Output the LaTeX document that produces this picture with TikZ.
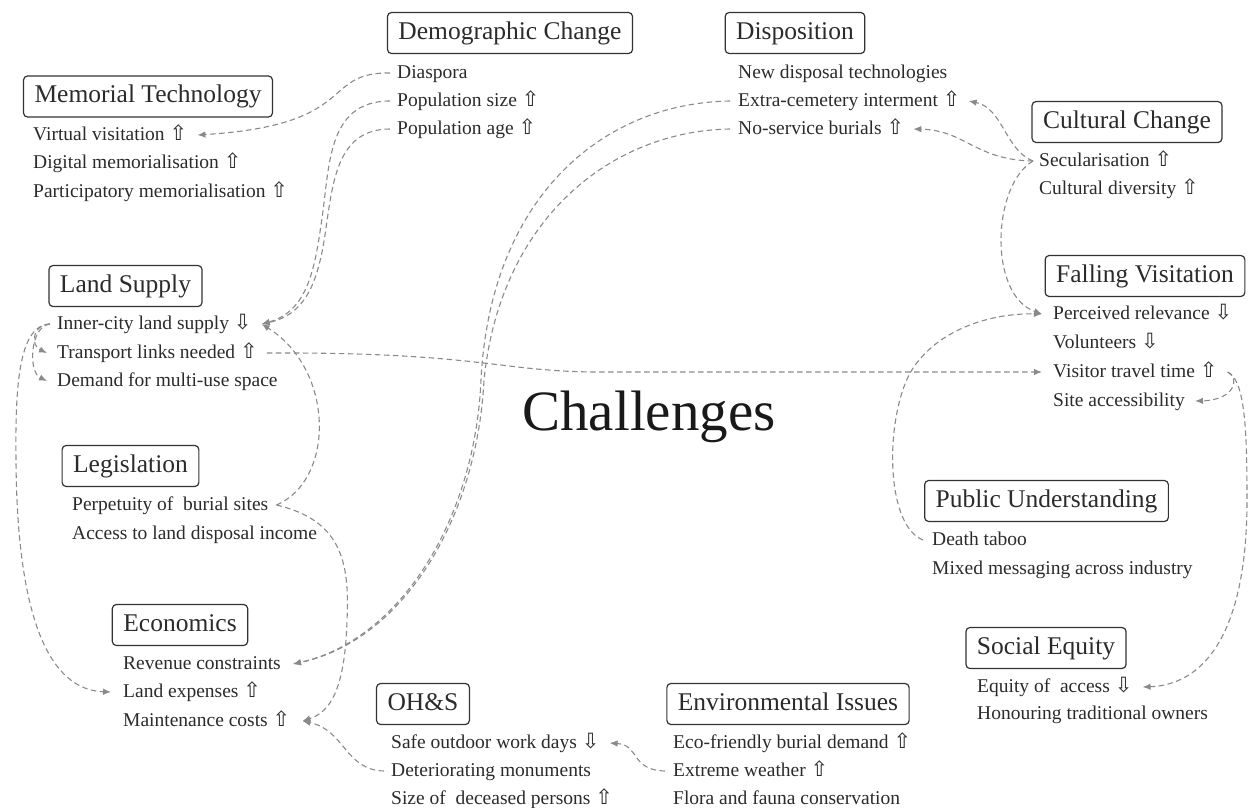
\documentclass[tikz,border=0pt]{standalone}
\usepackage{fontspec}
\setmainfont{Liberation Serif}
\newfontfamily\arwfont{DejaVu Sans}
\usetikzlibrary{arrows.meta}
\newcommand\UpA{{\arwfont\fontsize{21}{21}\selectfont\symbol{"21E7}}}
\newcommand\DnA{{\arwfont\fontsize{21}{21}\selectfont\symbol{"21E9}}}
\definecolor{txt}{HTML}{2B2B2B}
\definecolor{boxc}{HTML}{333333}
\definecolor{lnc}{HTML}{8A8A8A}
\tikzset{
 head/.style={draw=boxc, line width=1.2pt, rounded corners=4pt, text=txt,
   font=\fontsize{25.5}{28}\selectfont, minimum height=41pt, inner xsep=11pt,
   inner ysep=0pt, text height=17pt, text depth=5pt},
 item/.style={anchor=west, inner sep=0pt, text=txt,
   font=\fontsize{19.5}{22}\selectfont, text height=14pt, text depth=4pt},
 conn/.style={draw=lnc, line width=1.1pt, dash pattern=on 5.5pt off 3.5pt,
   -{Latex[length=8pt,width=6.5pt]}},
}
\begin{document}
\begin{tikzpicture}[x=1pt,y=-1pt]
\useasboundingbox (0,0) rectangle (1250,807);
% headings and items
\node[head] (mt) at (148,96.5) {Memorial Technology};
\node[item] (mt1) at (33,135) {Virtual visitation \UpA};
\node[item] (mt2) at (33,163.5) {Digital memorialisation \UpA};
\node[item] (mt3) at (33,192) {Participatory memorialisation \UpA};

\node[head] (dc) at (510,33) {Demographic Change};
\node[item] (dc1) at (397,73) {Diaspora};
\node[item] (dc2) at (397,101) {Population size \UpA};
\node[item] (dc3) at (397,129) {Population age \UpA};

\node[head] (dp) at (795,33) {Disposition};
\node[item] (dp1) at (738,73) {New disposal technologies};
\node[item] (dp2) at (738,101) {Extra-cemetery interment \UpA};
\node[item] (dp3) at (738,129) {No-service burials \UpA};

\node[head] (cc) at (1127,122) {Cultural Change};
\node[item] (cc1) at (1039,161) {Secularisation \UpA};
\node[item] (cc2) at (1039,189) {Cultural diversity \UpA};

\node[head] (fv) at (1145,276) {Falling Visitation};
\node[item] (fv1) at (1053,314) {Perceived relevance \DnA};
\node[item] (fv2) at (1053,343) {Volunteers \DnA};
\node[item] (fv3) at (1053,372) {Visitor travel time \UpA};
\node[item] (fv4) at (1053,401) {Site accessibility};

\node[head] (pu) at (1046.5,501) {Public Understanding};
\node[item] (pu1) at (932,540) {Death taboo};
\node[item] (pu2) at (932,569) {Mixed messaging across industry};

\node[head] (se) at (1046,648) {Social Equity};
\node[item] (se1) at (977,687) {Equity of\ \ access \DnA};
\node[item] (se2) at (977,714) {Honouring traditional owners};

\node[head] (ei) at (788,704) {Environmental Issues};
\node[item] (ei1) at (673,743) {Eco-friendly burial demand \UpA};
\node[item] (ei2) at (673,771) {Extreme weather \UpA};
\node[item] (ei3) at (673,799) {Flora and fauna conservation};

\node[head] (oh) at (423,704) {OH\&S};
\node[item] (oh1) at (391,743) {Safe outdoor work days \DnA};
\node[item] (oh2) at (391,771) {Deteriorating monuments};
\node[item] (oh3) at (391,799) {Size of\ \ deceased persons \UpA};

\node[head] (ec) at (180,625) {Economics};
\node[item] (ec1) at (123,664) {Revenue constraints};
\node[item] (ec2) at (123,692) {Land expenses \UpA};
\node[item] (ec3) at (123,721) {Maintenance costs \UpA};

\node[head] (lg) at (130.5,466) {Legislation};
\node[item] (lg1) at (72,505) {Perpetuity of\ \ burial sites};
\node[item] (lg2) at (72,534) {Access to land disposal income};

\node[head] (ls) at (125.5,286) {Land Supply};
\node[item] (ls1) at (57,324) {Inner-city land supply \DnA};
\node[item] (ls2) at (57,353) {Transport links needed \UpA};
\node[item] (ls3) at (57,381) {Demand for multi-use space};

\node[font=\fontsize{57}{60}\selectfont, text=black!90, anchor=base, inner sep=0pt] (ch) at (649,430) {Challenges};

% connectors
\draw[conn] ([xshift=-7pt]dc1.west) .. controls (320,72) and (360,125) .. ([xshift=10pt]mt1.east);
\draw[conn] ([xshift=-7pt]dc2.west) .. controls (325,101) and (330,170) .. (321,225)
  .. controls (314,275) and (305,312) .. ([xshift=10pt]ls1.east);
\draw[conn] ([xshift=-7pt]dc3.west) .. controls (338,129) and (333,180) .. (326,228)
  .. controls (319,278) and (308,314) .. ([xshift=10pt]ls1.east);
\draw[conn] ([xshift=-8pt]dp2.west) .. controls (600,103) and (490,200) .. (481,380)
  .. controls (475,520) and (400,640) .. ([xshift=12pt]ec1.east);
\draw[conn] ([xshift=-8pt]dp3.west) .. controls (610,131) and (500,220) .. (484,380)
  .. controls (477,520) and (402,641) .. ([xshift=12pt]ec1.east);
\draw[conn] ([xshift=-6pt]cc1.west) .. controls (1005,150) and (1003,108) .. ([xshift=8pt]dp2.east);
\draw[conn] ([xshift=-6pt]cc1.west) .. controls (975,160) and (965,130) .. ([xshift=9pt]dp3.east);
\draw[conn] ([xshift=-6pt]cc1.west) .. controls (992,185) and (988,295) .. ([xshift=-11pt]fv1.west);
\draw[conn] ([xshift=-9pt]pu1.west) .. controls (885,525) and (885,420) .. (910,373)
  .. controls (935,330) and (990,313) .. ([xshift=-11pt]fv1.west);
\draw[conn] ([xshift=-7pt]ls1.west) .. controls (33,324) and (30,345) .. ([xshift=-10pt]ls2.west);
\draw[conn] ([xshift=-7pt]ls1.west) .. controls (30,326) and (28,372) .. ([xshift=-10pt]ls3.west);
\draw[conn] ([xshift=-7pt]ls1.west) .. controls (20,325) and (15,380) .. (16,460)
  .. controls (17,620) and (50,690) .. ([xshift=-12pt]ec2.west);
\draw[conn] ([xshift=9pt]ls2.east) .. controls (480,352) and (500,372) .. (600,372)
  -- ([xshift=-11pt]fv3.west);
\draw[conn] ([xshift=8pt]lg1.east) .. controls (335,480) and (335,370) .. ([xshift=10pt]ls1.east);
\draw[conn] ([xshift=8pt]lg1.east) .. controls (340,520) and (350,560) .. (347,620)
  .. controls (345,690) and (330,712) .. ([xshift=12pt]ec3.east);
\draw[conn] ([xshift=-7pt]oh2.west) .. controls (345,770) and (345,730) .. ([xshift=12pt]ec3.east);
\draw[conn] ([xshift=-8pt]ei2.west) .. controls (630,770) and (640,745) .. ([xshift=10pt]oh1.east);
\draw[conn] ([xshift=10pt]fv3.east) .. controls (1240,378) and (1235,400) .. ([xshift=10pt]fv4.east);
\draw[conn] ([xshift=10pt]fv3.east) .. controls (1245,380) and (1247,430) .. (1247,500)
  .. controls (1247,640) and (1200,685) .. ([xshift=10pt]se1.east);
\end{tikzpicture}
\end{document}
